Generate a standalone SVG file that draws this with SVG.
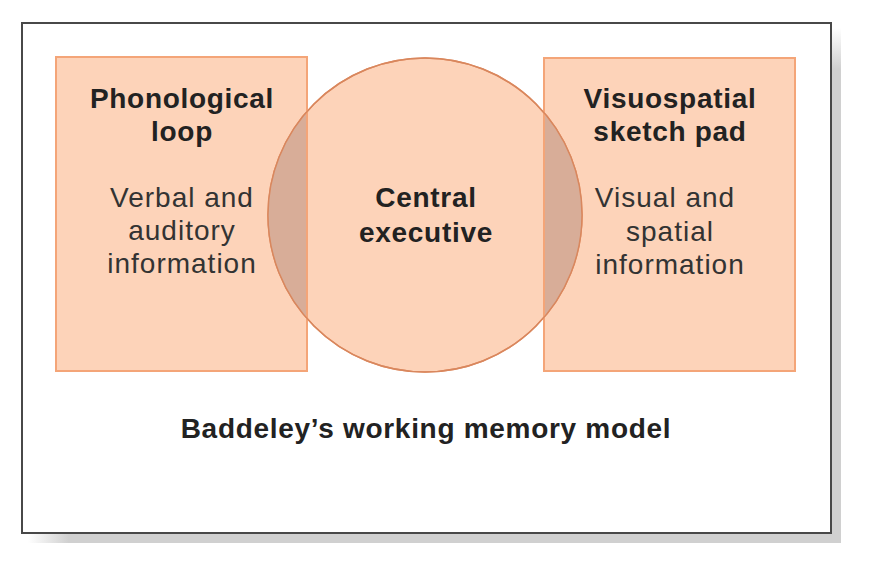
<svg xmlns="http://www.w3.org/2000/svg" width="870" height="568" viewBox="0 0 870 568">
<defs>
<style>
.box{fill:#fdd3b9;stroke:#f4a578;stroke-width:2}
.edge{fill:none;stroke:#f4a578;stroke-width:2}
.circ{fill:#fdd3b9;stroke:#e48a5c;stroke-width:1.6}
.arc{fill:none;stroke:#d8875e;stroke-width:1.4}
.ov{fill:#d8ad98}
.h{font-family:"Liberation Sans",Arial,sans-serif;font-weight:bold;font-size:28px;letter-spacing:0.7px;fill:#222;text-anchor:middle}
.t{font-family:"Liberation Sans",Arial,sans-serif;font-size:28px;letter-spacing:1px;fill:#333;text-anchor:middle}
</style>
<linearGradient id="gb" x1="0" y1="0" x2="1" y2="0" gradientUnits="objectBoundingBox">
<stop offset="0" stop-color="#d0d0d0" stop-opacity="0"/>
<stop offset="0.05" stop-color="#d0d0d0" stop-opacity="1"/>
<stop offset="1" stop-color="#d0d0d0"/>
</linearGradient>
<linearGradient id="gr" x1="0" y1="0" x2="0" y2="1">
<stop offset="0" stop-color="#d0d0d0" stop-opacity="0"/>
<stop offset="0.08" stop-color="#d0d0d0" stop-opacity="1"/>
<stop offset="1" stop-color="#d0d0d0"/>
</linearGradient>
<clipPath id="cc"><circle cx="425" cy="215" r="157"/></clipPath>
</defs>
<g id="frame">
<rect x="28" y="533" width="813" height="10" fill="url(#gb)"/>
<rect x="831" y="28" width="10" height="515" fill="url(#gr)"/>
<rect x="22" y="23" width="809" height="510" fill="#fff" stroke="#484848" stroke-width="2"/>
</g>
<g id="phonological-loop">
<rect class="box" x="56" y="57" width="251" height="314"/>
</g>
<g id="visuospatial-sketch-pad">
<rect class="box" x="544" y="58" width="251" height="313"/>
</g>
<g id="central-executive">
<circle class="circ" cx="425" cy="215" r="157"/>
<g clip-path="url(#cc)">
<rect class="ov" x="56" y="57" width="251" height="314"/>
<rect class="ov" x="544" y="58" width="251" height="313"/>
</g>
<line class="edge" x1="307" y1="100" x2="307" y2="330"/>
<line class="edge" x1="544" y1="100" x2="544" y2="330"/>
<circle class="arc" cx="425" cy="215" r="157"/>
<text class="h" x="426" y="207">Central</text>
<text class="h" x="426" y="242">executive</text>
</g>
<g id="labels-left">
<text class="h" x="182" y="108">Phonological</text>
<text class="h" x="182" y="141">loop</text>
<text class="t" x="182" y="207">Verbal and</text>
<text class="t" x="182" y="240">auditory</text>
<text class="t" x="182" y="273">information</text>
</g>
<g id="labels-right">
<text class="h" x="670" y="108">Visuospatial</text>
<text class="h" x="670" y="141">sketch pad</text>
<text class="t" x="665" y="207">Visual and</text>
<text class="t" x="670" y="241">spatial</text>
<text class="t" x="670" y="274">information</text>
</g>
<g id="connectors"></g>
<text id="title" class="h" x="426" y="438">Baddeley’s working memory model</text>
</svg>
